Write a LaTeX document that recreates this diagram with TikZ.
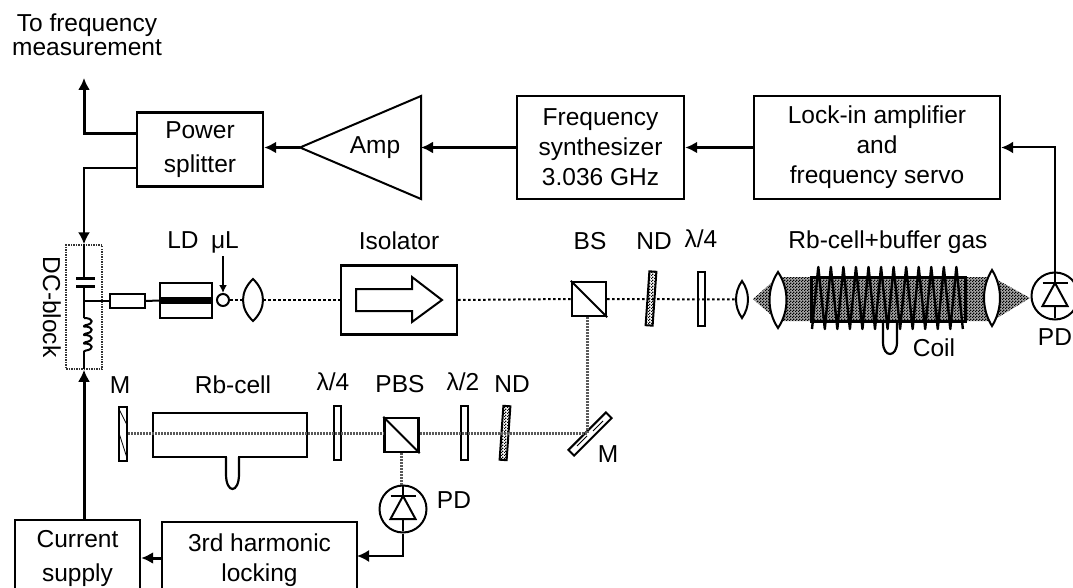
\documentclass[tikz,border=0pt]{standalone}
\usepackage{fontspec}
\setmainfont{Liberation Sans}
\usetikzlibrary{arrows.meta,patterns,calc}
\pgfdeclarepatternformonly{dither}{\pgfpointorigin}{\pgfqpoint{3pt}{3pt}}{\pgfqpoint{3pt}{3pt}}{%
 \pgfpathrectangle{\pgfpointorigin}{\pgfqpoint{1.5pt}{1.5pt}}%
 \pgfpathrectangle{\pgfqpoint{1.5pt}{1.5pt}}{\pgfqpoint{1.5pt}{1.5pt}}\pgfusepath{fill}}
\tikzset{
 lbl/.style={anchor=base,inner sep=0pt,font=\fontsize{24.5}{30}\selectfont},
 box/.style={draw,line width=2.4pt,inner sep=0pt,align=center,font=\fontsize{24.5}{30}\selectfont},
 wirethick/.style={line width=3pt},
 wirethin/.style={line width=2pt},
 tip/.style={-{Latex[length=12pt,width=12pt]}},
 beam/.style={line width=2pt,dash pattern=on 2.5pt off 2.5pt,black},
 beamlow/.style={line width=3pt,dash pattern=on 2pt off 1pt,black!65},
 plate/.style={draw,line width=2pt,inner sep=0pt,minimum width=7pt,minimum height=54pt},
 ndplate/.style={plate,pattern=dither,rotate=-4},
 optic/.style={draw,line width=2pt,inner sep=0pt},
 hollow/.style={draw=none,inner sep=0pt},
 lensline/.style={line width=2pt,fill=white},
 hatchline/.style={line width=.8pt},
}
\newcommand{\lensat}[5]{%
 \node[hollow,minimum width={2*#4},minimum height={2*#5}] (#1) at (#2,#3) {};
 \draw[lensline] (#2,{#3-#5}) .. controls ({#2+1.33*#4},{#3-.4*#5}) and ({#2+1.33*#4},{#3+.4*#5}) .. (#2,{#3+#5})
   .. controls ({#2-1.33*#4},{#3+.4*#5}) and ({#2-1.33*#4},{#3-.4*#5}) .. (#2,{#3-#5}) -- cycle;}
\newcommand{\photodiode}[3]{%
 \node[optic,circle,minimum size=47pt,fill=white] (#1) at (#2,#3) {};
 \begin{scope}[shift={(#2,#3)},line width=2pt]
  \draw[line width=2.6pt] (-12.5,-13) -- (12.5,-13);
  \draw (0,-13) -- (-12.5,10) -- (12.5,10) -- cycle;
  \draw[line width=2.6pt] (0,-23) -- (0,-13) (0,10) -- (0,22);
 \end{scope}}
\begin{document}
\begin{tikzpicture}[x=1pt,y=-1pt]
\useasboundingbox (0,0) rectangle (1073,588);
% ---- upper boxes
\node[box,minimum width=126pt,minimum height=74pt,font=\fontsize{24.5}{34}\selectfont] (split) at (200,149.5) {Power\\splitter};
\node[box,minimum width=167pt,minimum height=103pt] (synth) at (600.5,147.5) {Frequency\\synthesizer\\3.036 GHz};
\node[box,minimum width=246pt,minimum height=103pt] (lockin) at (877,147.5) {Lock-in amplifier\\and\\frequency servo};
\coordinate (ampTip) at (300,147.5);
\coordinate (ampIn) at (421,147.5);
\draw[line width=2pt] (ampTip) -- (421,96) -- (421,199) -- cycle;
\node[lbl] (amp) at (375,154) {Amp};
\draw[wirethick,tip] (lockin.west) -- (synth.east);
\draw[wirethick,tip] (synth.west) -- (ampIn);
\draw[wirethick,tip] (ampTip) -- (ampTip -| split.east);
% ---- top label & splitter outputs
\node[lbl] (tofreq) at (87,32) {To frequency};
\node[lbl] (meas) at (87,56) {measurement};
\coordinate (wire) at (84,301);
\coordinate (outA) at (137,134);
\coordinate (outB) at (137,168);
\coordinate (outEnd) at (84,78);
\draw[wirethick,tip] (outA) -| (outEnd);
% ---- DC block
\node[draw,densely dotted,line width=1.5pt,black!80,minimum width=36pt,minimum height=124pt,inner sep=0pt] (dc) at (84,307) {};
\node[lbl,rotate=-90,anchor=center] (dclab) at (52,307) {DC-block};
\coordinate (capA) at (84,278.5);
\coordinate (capB) at (84,286);
\coordinate (indA) at (84,318);
\draw[wirethin,tip] (outB) -| (dc.north -| wire);
\draw[wirethin] (dc.north -| wire) -- (capA);
\draw[line width=3pt] (76,278.5) -- (95,278.5) (76,286) -- (95,286);
\draw[wirethin] (capB) -- (indA);
\draw[wirethin,line join=round] (84,318) \foreach \k in {0,1,2,3}{ .. controls (94,{318+8.5*\k}) and (94,{324+8.5*\k}) .. (86,{325+8.5*\k}) -- (86,{325+8.5*\k}) .. controls (84,{325.5+8.5*\k}) and (84,{326+8.5*\k}) .. (84,{326.5+8.5*\k}) };
\draw[wirethin] (84,352) -- (84,369);
% ---- LD
\node[optic,line width=1.8pt,minimum width=35pt,minimum height=14pt] (res) at (127.5,301) {};
\node[optic,line width=2.4pt,minimum width=52pt,minimum height=35pt] (ld) at (186,300.5) {};
\draw[line width=7pt] (ld.west) -- (ld.east);
\draw[wirethin] (wire) -- (res.west);
\draw[wirethin] (res.east) -- (ld.west);
\node[lbl] (ldlab) at (183,248) {LD};
\node[lbl] (mulab) at (225,248) {μL};
\node[optic,circle,minimum size=12pt] (ball) at (223,300) {};
\coordinate (ballIn) at (223,256);
\draw[wirethin,-{Latex[length=8pt,width=8pt]}] (ballIn) -- (ball.north);
\lensat{lensA}{253}{300}{10}{21}
% ---- Isolator
\node[box,minimum width=116pt,minimum height=69pt] (iso) at (399,300) {};
\draw[line width=2pt] (356,289) -- (412,289) -- (412,277) -- (442,300) -- (412,322) -- (412,311) -- (356,311) -- cycle;
\node[lbl] (isolab) at (399,249) {Isolator};
% ---- BS etc
\node[optic,line width=2.4pt,minimum size=34pt] (bs) at (589,299) {};
\draw[line width=2pt] (bs.north west) -- (bs.south east);
\node[lbl] (bslab) at (590,249) {BS};
\node[ndplate] (ndA) at (651,298.5) {};
\node[lbl] (ndlabA) at (654,249) {ND};
\node[plate] (qwA) at (701,298.5) {};
\node[lbl] (qwlabA) at (701,247) {λ/4};
% ---- gas cell
\fill[black!35] (753,299) -- (778,277) -- (992,277) -- (1030,298) -- (992,321) -- (778,321) -- cycle;
\fill[pattern=dither] (753,299) -- (778,277) -- (992,277) -- (1030,298) -- (992,321) -- (778,321) -- cycle;
\node[optic,line width=3pt,minimum width=154pt,minimum height=44pt] (gas) at (888,299) {};
\draw[line width=2.4pt,line join=round] (812,329) \foreach \i in {0,...,11}{ -- ({818.3+12.55*\i},267) -- ({824.8+12.55*\i},329) };
\draw[line width=2.2pt] (883,321) -- (883,342) .. controls (883,358) and (897,358) .. (897,342) -- (897,321);
\lensat{lensB}{742}{299.5}{6}{18.5}
\lensat{lensC}{778}{300}{8.5}{28}
\lensat{lensD}{992}{298}{8}{28}
\node[lbl] (gaslab) at (888,248) {Rb-cell+buffer gas};
\node[lbl] (coillab) at (934,356) {Coil};
\photodiode{pdA}{1055}{296}
\node[lbl] (pdlabA) at (1055,345) {PD};
\draw[wirethin,tip] (pdA.north) |- (lockin.east);
% ---- top beam
\draw[beam] (ball.east) -- (lensA.west);
\draw[beam] (lensA.east) -- (iso.west);
\draw[beam] (iso.east) -- (bs.west);
\draw[beam] (bs.east) -- (lensB.west);
% ---- lower optics
\node[plate,minimum width=8pt] (mA) at (123,434) {};
\draw[hatchline] (119,409) -- (127,425) (119,433) -- (127,458);
\node[lbl] (mlabA) at (120,393) {M};
\node[optic,line width=2.4pt,minimum width=154pt,minimum height=44pt] (rb) at (230,435) {};
\fill[white] (227,454) rectangle (238,460);
\draw[line width=2.2pt] (226,457) -- (226,474) .. controls (226,494) and (239,494) .. (239,474) -- (239,457);
\node[lbl] (rblab) at (233,393) {Rb-cell};
\node[plate] (qwB) at (337.5,433) {};
\node[lbl] (qwlabB) at (333,390) {λ/4};
\node[optic,line width=2.4pt,minimum size=34pt] (pbs) at (401.5,435) {};
\draw[line width=2pt] (pbs.north west) -- (pbs.south east);
\node[lbl] (pbslab) at (400,392) {PBS};
\node[plate] (hw) at (464.5,433) {};
\node[lbl] (hwlab) at (463,390) {λ/2};
\node[ndplate] (ndB) at (505,433) {};
\node[lbl] (ndlabB) at (512,392) {ND};
\node[plate,minimum width=8pt,minimum height=53pt,rotate=-45] (mB) at (590,434) {};
\draw[hatchline] (577,446) -- (587,436) (593,431) -- (603,421);
\node[lbl] (mlabB) at (608,462) {M};
\coordinate (fold) at (587,433);
\draw[beamlow] (mA.east |- fold) -- (pbs.west |- fold);
\draw[beamlow] (pbs.east |- fold) -- (fold);
\draw[beamlow] (fold) -- (fold |- bs.south);
\photodiode{pdB}{403}{509}
\draw[beamlow] (pbs.south) -- (pbs.south |- pdB.north);
\node[lbl] (pdlabB) at (454,508) {PD};
% ---- bottom boxes
\node[box,minimum width=125pt,minimum height=76pt,font=\fontsize{24.5}{34}\selectfont] (cur) at (77.5,558) {Current\\supply};
\node[box,minimum width=195pt,minimum height=76pt] (third) at (259.5,560) {3rd harmonic\\locking};
\coordinate (thirdIn) at (357,556);
\draw[wirethin,tip] (pdB.south) |- (thirdIn);
\draw[wirethick,tip] (162,558) -- (cur.east |- 0,558);
\draw[wirethick,tip] (wire |- cur.north) -- (wire |- dc.south);
\end{tikzpicture}
\end{document}
